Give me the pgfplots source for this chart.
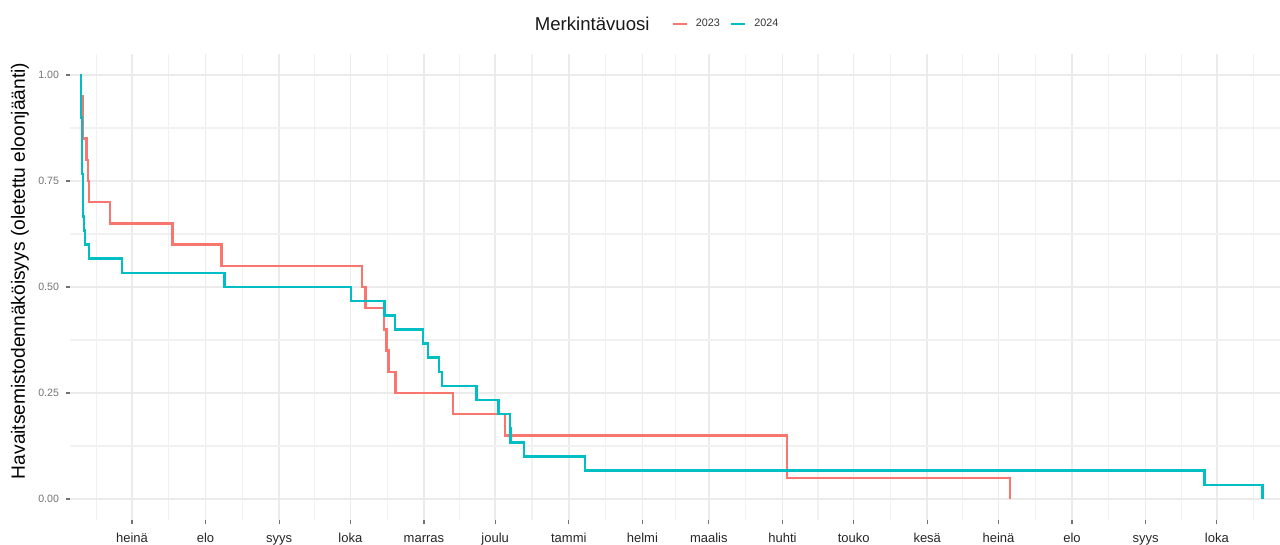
\documentclass[border=0pt]{standalone}
\usepackage{fontspec}
\setmainfont{Liberation Sans}
\usepackage{pgfplots}
\pgfplotsset{compat=1.18}
\definecolor{c23}{HTML}{F8766D}
\definecolor{c24}{HTML}{00BFC4}
\definecolor{gridc}{HTML}{EBEBEB}
\definecolor{gridm}{HTML}{F1F1F1}
\begin{document}
\begin{tikzpicture}
\useasboundingbox (-35pt,-12.5pt) rectangle (605pt,260pt);
\begin{axis}[
  at={(0,0)}, anchor=south west,
  scale only axis, width=605pt, height=233pt,
  xmin=-26.1, xmax=483.6, ymin=-0.0495, ymax=1.0495,
  clip=false,
  axis line style={draw=none},
  xtick={0,31,62,92,123,153,184,215,243,274,304,335,365,396,427,457},
  xticklabels={heinä,elo,syys,loka,marras,joulu,tammi,helmi,maalis,huhti,touko,kesä,heinä,elo,syys,loka},
  minor xtick={-15,15.5,46.5,77,107.5,138,168.5,199.5,229,258.5,289,319.5,350,380.5,411.5,442,472.5},
  ytick={0,0.25,0.5,0.75,1},
  minor ytick={0.125,0.375,0.625,0.875},
  grid=both,
  major grid style={gridc, line width=0.8pt},
  minor grid style={gridm, line width=0.6pt},
  tick align=outside, xtick pos=left, ytick pos=left,
  major tick length=2pt, minor tick length=0pt,
  tick style={black!55, line width=0.6pt},
  /pgf/number format/.cd, fixed, fixed zerofill, precision=2, assume math mode=true, /pgfplots/.cd,
  yticklabel style={font=\fontsize{5.3}{6}\selectfont, text=black!55},
  xticklabel style={font=\fontsize{6.5}{7}\selectfont, text=black!85, text height=4.7pt, text depth=1.3pt, inner sep=0pt},
  xticklabel shift=4.4pt,
  ylabel={Havaitsemistodennäköisyys (oletettu eloonjäänti)},
  ylabel style={at={(axis description cs:-0.0413,0.5343)}, anchor=center, font=\fontsize{9.6}{11}\selectfont, text=black},
  legend style={at={(axis description cs:0.4967,1.0644)}, anchor=west, draw=none, fill=none, inner sep=0pt,
    font=\fontsize{5.4}{6}\selectfont, text=black!80,
    nodes={inner sep=0pt},
    /tikz/every odd column/.append style={column sep=4pt},
    /tikz/every even column/.append style={column sep=5pt}},
  legend columns=-1,
  legend image code/.code={\draw[#1] (0pt,0pt) -- (7pt,0pt);},
]
\addplot[const plot, c23, line width=1.25pt] coordinates {
 (-21.1,0.95) (-20.7,0.85) (-19.1,0.80) (-18.5,0.75) (-18.1,0.70) (-9.3,0.65)
 (17.1,0.60) (37.8,0.55) (97.0,0.50) (98.4,0.45) (106.1,0.40) (107.3,0.35)
 (108.0,0.30) (111.1,0.25) (135.3,0.20) (157.1,0.15) (276.0,0.05) (369.8,0.00)
};
\addlegendentry{2023}
\addplot[const plot, c24, line width=1.25pt] coordinates {
 (-21.7,1.0) (-21.5,0.9) (-21.1,0.7667) (-20.6,0.6667) (-20.2,0.6333) (-19.7,0.60)
 (-18.0,0.5667) (-4.3,0.5333) (38.9,0.50) (92.2,0.4667) (106.3,0.4333) (110.8,0.40)
 (122.5,0.3667) (124.6,0.3333) (129.3,0.30) (130.5,0.2667) (145.1,0.2333) (154.3,0.20)
 (159.2,0.1667) (159.5,0.1333) (165.1,0.10) (190.8,0.0667) (451.7,0.0333) (476.3,0.0)
};
\addlegendentry{2024}
\node[font=\fontsize{9.3}{11}\selectfont, text=black!90, anchor=east, inner sep=0pt] at (axis description cs:0.4793,1.0644) {Merkintävuosi};
\end{axis}
\end{tikzpicture}
\end{document}
